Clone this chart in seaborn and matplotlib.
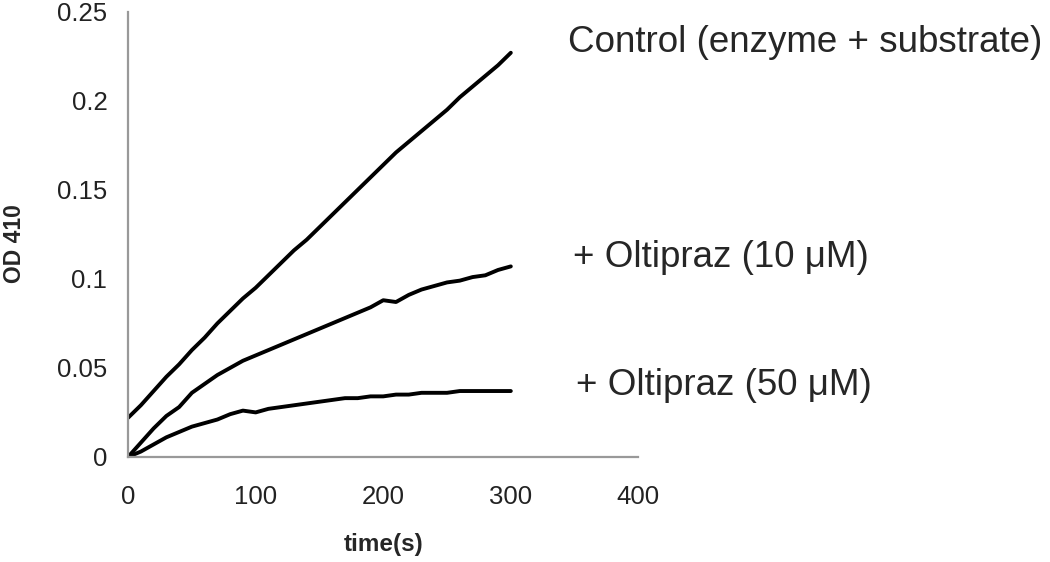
import numpy as np
import pandas as pd
import matplotlib as mpl
import matplotlib.pyplot as plt
import seaborn as sns

sns.set_theme(style="white")
plt.rcParams['font.family'] = ['Liberation Sans', 'DejaVu Sans']

# time points (s)
time_s = list(range(0, 310, 10))

# OD 410 readings
control = [0.022, 0.029, 0.037, 0.045, 0.052, 0.060, 0.067, 0.075, 0.082, 0.089,
           0.095, 0.102, 0.109, 0.116, 0.122, 0.129, 0.136, 0.143, 0.150, 0.157,
           0.164, 0.171, 0.177, 0.183, 0.189, 0.195, 0.202, 0.208, 0.214, 0.220,
           0.227]
oltipraz_10 = [0.000, 0.008, 0.016, 0.023, 0.028, 0.036, 0.041, 0.046, 0.050, 0.054,
               0.057, 0.060, 0.063, 0.066, 0.069, 0.072, 0.075, 0.078, 0.081, 0.084,
               0.088, 0.087, 0.091, 0.094, 0.096, 0.098, 0.099, 0.101, 0.102, 0.105,
               0.107]
oltipraz_50 = [0.000, 0.003, 0.007, 0.011, 0.014, 0.017, 0.019, 0.021, 0.024, 0.026,
               0.025, 0.027, 0.028, 0.029, 0.030, 0.031, 0.032, 0.033, 0.033, 0.034,
               0.034, 0.035, 0.035, 0.036, 0.036, 0.036, 0.037, 0.037, 0.037, 0.037,
               0.037]

series_names = ["Control (enzyme + substrate)", "+ Oltipraz (10 \u03bcM)", "+ Oltipraz (50 \u03bcM)"]
series_values = [control, oltipraz_10, oltipraz_50]
# where each label sits (data coords)
label_x = [345, 349, 351]
label_y = [0.2325, 0.112, 0.040]

df = pd.concat([pd.DataFrame({"time": time_s, "od": v, "series": n})
                for n, v in zip(series_names, series_values)])

fig = plt.figure(figsize=(10.5, 5.62), dpi=100)
ax = fig.add_axes([0.122, 0.187, 0.486, 0.792])

sns.lineplot(data=df, x="time", y="od", hue="series", palette=['black'] * 3,
             linewidth=2.8, legend=False, ax=ax)

for name, tx, ty in zip(series_names, label_x, label_y):
    ax.text(tx, ty, name, fontsize=26.5, va='center', ha='left', clip_on=False)

ax.set_xlim(0, 400)
ax.set_ylim(0, 0.25)
ax.set_xticks([0, 100, 200, 300, 400])
ax.set_yticks([0, 0.05, 0.1, 0.15, 0.2, 0.25])
ax.yaxis.set_major_formatter(mpl.ticker.FuncFormatter(lambda v, p: '%g' % round(v, 2)))

sns.despine(ax=ax)
for side in ['left', 'bottom']:
    ax.spines[side].set_color('#999999')
    ax.spines[side].set_linewidth(1.6)
ax.tick_params(axis='both', direction='out', length=5, width=1.2, color='#999999',
               labelsize=18.5, labelcolor='#222222')
ax.tick_params(axis='x', pad=15)
ax.tick_params(axis='y', pad=10)

ax.set_xlabel("time(s)", weight='bold', fontsize=17.5)
ax.set_ylabel("OD 410", weight='bold', fontsize=16.5)
ax.xaxis.set_label_coords(0.5, -0.17)
ax.yaxis.set_label_coords(-0.2, 0.48)

plt.savefig("out.png", dpi=100)
